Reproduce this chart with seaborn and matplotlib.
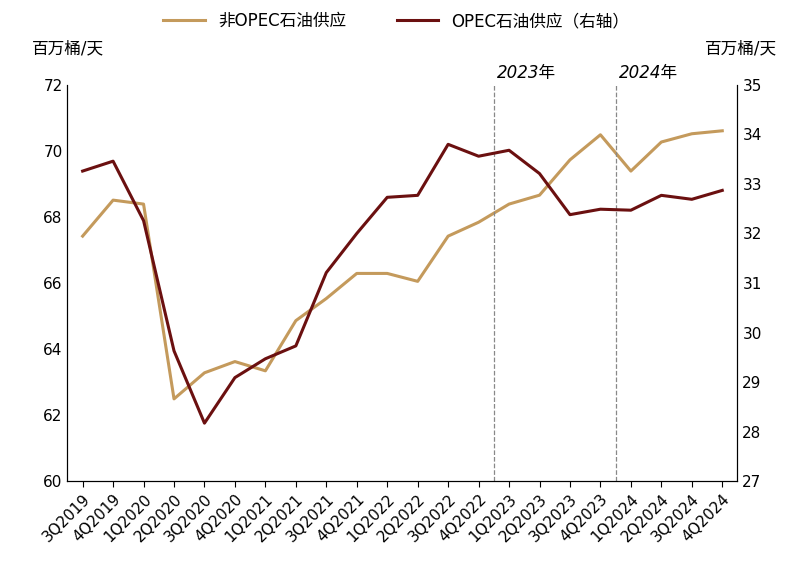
import matplotlib
matplotlib.use("Agg")
import matplotlib.pyplot as plt
from matplotlib import font_manager
import seaborn as sns
import pandas as pd
import numpy as np

cjk = [f.name for f in font_manager.fontManager.ttflist if "CJK" in f.name]
plt.rcParams["font.family"] = ["DejaVu Sans"] + sorted(set(cjk)) + ["Noto Sans CJK SC", "Noto Sans CJK JP"]
plt.rcParams["axes.unicode_minus"] = False

quarters = ["3Q2019","4Q2019","1Q2020","2Q2020","3Q2020","4Q2020","1Q2021","2Q2021",
            "3Q2021","4Q2021","1Q2022","2Q2022","3Q2022","4Q2022","1Q2023","2Q2023",
            "3Q2023","4Q2023","1Q2024","2Q2024","3Q2024","4Q2024"]
non_opec = [67.42,68.51,68.39,62.49,63.28,63.62,63.34,64.86,65.53,66.29,66.29,66.05,
            67.42,67.84,68.39,68.66,69.73,70.49,69.39,70.27,70.52,70.61]
opec = [33.26,33.46,32.26,29.63,28.17,29.09,29.47,29.73,31.21,32.0,32.73,32.77,
        33.80,33.56,33.68,33.21,32.38,32.49,32.47,32.77,32.69,32.87]

df = pd.DataFrame({"q": quarters, "x": np.arange(len(quarters)), "non": non_opec, "opec": opec})
c1, c2 = "#C49A5C", "#6B1010"

fig, ax = plt.subplots(figsize=(7.93, 5.66), dpi=100)
fig.subplots_adjust(left=0.085, right=0.93, top=0.85, bottom=0.15)
sns.lineplot(data=df, x="x", y="non", ax=ax, color=c1, lw=2.2, label="非OPEC石油供应", legend=False)
ax2 = ax.twinx()
sns.lineplot(data=df, x="x", y="opec", ax=ax2, color=c2, lw=2.2, label="OPEC石油供应（右轴）", legend=False)

ax.set_xlim(-0.5, len(quarters) - 0.5)
ax.set_ylim(60, 72)
ax2.set_ylim(27, 35)
ax.set_yticks(range(60, 73, 2))
ax2.set_yticks(range(27, 36))
ax.set_xticks(df["x"])
ax.set_xticklabels(quarters, rotation=45, ha="right", rotation_mode="anchor", fontsize=10.5)
ax.set_xlabel(""); ax.set_ylabel(""); ax2.set_ylabel("")
for a in (ax, ax2):
    a.spines["top"].set_visible(False)
    a.tick_params(labelsize=11)
ax.tick_params(axis="y", length=0)
ax2.tick_params(axis="y", length=0)
ax.tick_params(axis="x", length=4)

for xi, lab in [(13.5, "2023年"), (17.5, "2024年")]:
    ax.axvline(xi, color="#888888", ls="--", lw=0.9)
    ax.text(xi + 0.1, 72.1, lab, fontstyle="italic", fontsize=12, va="bottom", ha="left")

fig.text(0.04, 0.905, "百万桶/天", fontsize=12, ha="left")
fig.text(0.98, 0.905, "百万桶/天", fontsize=12, ha="right")
h1, l1 = ax.get_legend_handles_labels()
h2, l2 = ax2.get_legend_handles_labels()
fig.legend(h1 + h2, l1 + l2, loc="upper center", ncol=2, frameon=False, fontsize=12,
           bbox_to_anchor=(0.5, 1.005), columnspacing=3, handlelength=2.5)
fig.savefig("out.png", dpi=100)
